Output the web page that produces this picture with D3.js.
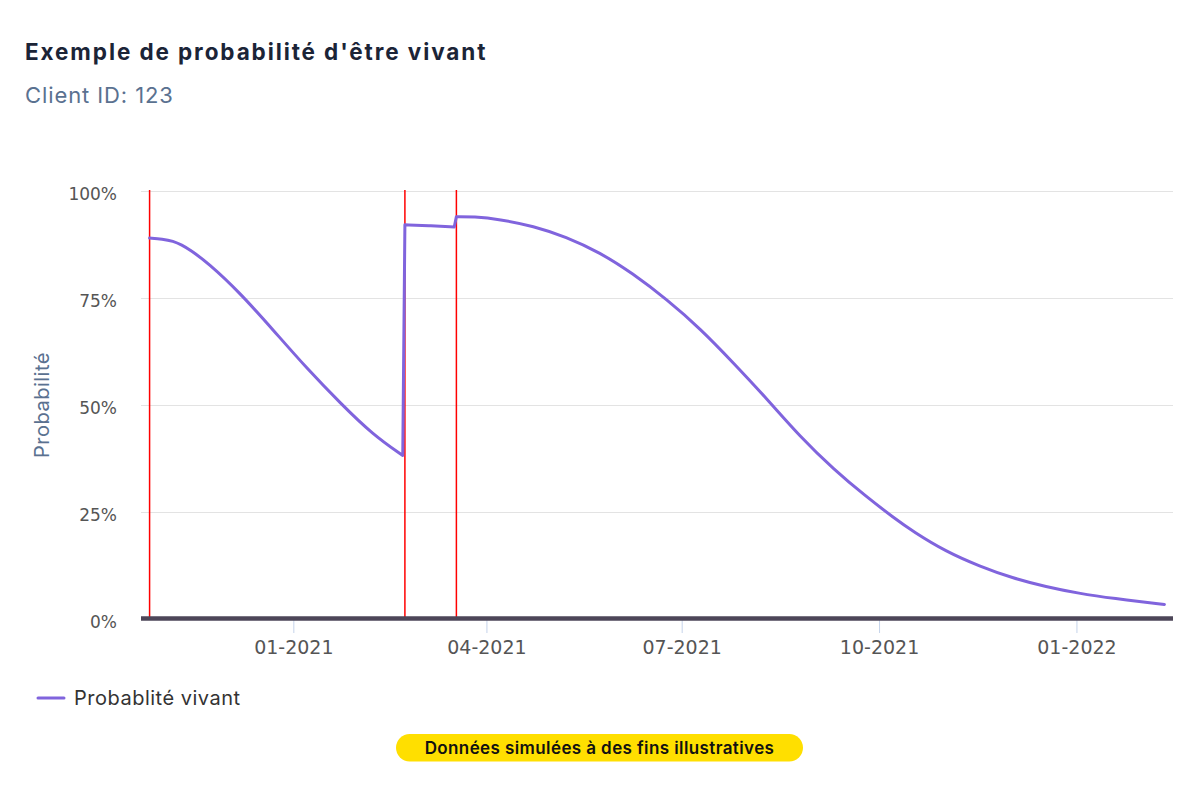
<!DOCTYPE html>
<html>
<head>
<meta charset="utf-8">
<script src="https://cdn.jsdelivr.net/npm/d3@7"></script>
<style>
  html, body { margin: 0; padding: 0; background: #ffffff; }
  svg { display: block; }
</style>
</head>
<body>
<div id="chart"></div>
<script>
// ---- Data ----
const dates = [
  "2020-10-26","2020-11-01","2020-11-06","2020-11-10","2020-11-14","2020-11-22","2020-12-07","2020-12-23",
  "2021-01-07","2021-01-23","2021-02-07","2021-02-21",
  "2021-02-22","2021-03-05","2021-03-17",
  "2021-03-18","2021-03-26","2021-04-07","2021-04-23","2021-05-08","2021-05-24","2021-06-08","2021-06-24",
  "2021-07-10","2021-07-25","2021-08-10","2021-08-25","2021-09-10","2021-09-25","2021-10-08","2021-10-17",
  "2021-11-01","2021-11-17","2021-12-02","2021-12-18","2022-01-02","2022-01-18","2022-02-11"
];
const probs = [
  89.0, 88.8, 88.3, 87.4, 86.2, 83.3, 76.3, 67.3,
  58.7, 50.4, 43.1, 38.2,
  92.1, 91.9, 91.6,
  94.0, 94.0, 93.4, 91.8, 89.3, 85.6, 80.8, 74.7,
  67.7, 59.9, 51.3, 42.7, 34.9, 28.6, 23.6, 20.4,
  15.8, 12.3, 9.6, 7.5, 6.0, 4.8, 3.4
];
const purchaseDates = ["2020-10-26", "2021-02-22", "2021-03-18"];
const yTickValues = [0, 25, 50, 75, 100];
const xTickDates = ["2021-01-01", "2021-04-01", "2021-07-01", "2021-10-01", "2022-01-01"];
const xDomainDates = ["2020-10-22", "2022-02-15"];

const titleText = "Exemple de probabilité d'être vivant";
const subtitleText = "Client ID: 123";
const yAxisTitle = "Probabilité";
const seriesName = "Probablité vivant";
const badgeText = "Données simulées à des fins illustratives";

// ---- Setup ----
const W = 1200, H = 800;
const parse = d3.utcParse("%Y-%m-%d");
const uiFont = "Inter, Lato, 'Noto Sans', sans-serif";
const axisFont = "'DejaVu Sans', Verdana, sans-serif";
const lineColor = "#8064dd";

const plot = { left: 141, right: 1173, top: 191, bottom: 619 };

const svg = d3.select("#chart").append("svg")
  .attr("width", W).attr("height", H)
  .attr("viewBox", `0 0 ${W} ${H}`);

svg.append("rect").attr("width", W).attr("height", H).attr("fill", "#ffffff");

const x = d3.scaleUtc()
  .domain(xDomainDates.map(parse))
  .range([plot.left, plot.right]);
const y = d3.scaleLinear()
  .domain([0, 100])
  .range([plot.bottom, plot.top]);

// Title & subtitle
svg.append("text")
  .attr("x", 25).attr("y", 60)
  .attr("font-family", uiFont).attr("font-weight", 700)
  .attr("font-size", 22.5).attr("letter-spacing", 1.9).attr("fill", "#1b2437")
  .text(titleText);
svg.append("text")
  .attr("x", 25).attr("y", 103)
  .attr("font-family", uiFont).attr("font-weight", 400)
  .attr("font-size", 22).attr("letter-spacing", 0.9).attr("fill", "#5a7190")
  .text(subtitleText);

// Grid lines + y labels
const yAxis = d3.axisLeft(y)
  .tickValues(yTickValues)
  .tickSize(-(plot.right - plot.left))
  .tickPadding(24)
  .tickFormat(d => d + "%");
const gy = svg.append("g")
  .attr("transform", `translate(${plot.left},0)`)
  .call(yAxis);
gy.select(".domain").remove();
gy.selectAll(".tick line").attr("stroke", "#e3e3e3").attr("stroke-width", 1);
gy.selectAll(".tick text")
  .attr("font-family", axisFont).attr("font-size", 17)
  .attr("fill", "#555555").attr("dy", "0.5em");

// Y axis title
svg.append("text")
  .attr("transform", `translate(49,${(plot.top + plot.bottom) / 2}) rotate(-90)`)
  .attr("text-anchor", "middle")
  .attr("font-family", uiFont).attr("font-size", 20).attr("letter-spacing", 0.5)
  .attr("fill", "#5a7190")
  .text(yAxisTitle);

// Purchase (red) lines
svg.append("g").selectAll("line")
  .data(purchaseDates.map(parse))
  .join("line")
  .attr("x1", d => x(d)).attr("x2", d => x(d))
  .attr("y1", y(100) - 1).attr("y2", y(0))
  .attr("stroke", "#ff0000").attr("stroke-width", 1.5);

// X axis
const xAxis = d3.axisBottom(x)
  .tickValues(xTickDates.map(parse))
  .tickSize(14)
  .tickPadding(6)
  .tickFormat(d3.utcFormat("%m-%Y"));
const gx = svg.append("g")
  .attr("transform", `translate(0,${plot.bottom})`)
  .call(xAxis);
gx.select(".domain").remove();
gx.selectAll(".tick line").attr("stroke", "#c5d3ea").attr("stroke-width", 1);
gx.selectAll(".tick text")
  .attr("font-family", axisFont).attr("font-size", 19)
  .attr("fill", "#555555").attr("dy", "0.8em");

svg.append("line")
  .attr("x1", plot.left).attr("x2", plot.right)
  .attr("y1", y(0) - 0.5).attr("y2", y(0) - 0.5)
  .attr("stroke", "#4d4658").attr("stroke-width", 4.5);

// Series line: smooth within each purchase segment, straight jumps between them
const purchases = purchaseDates.map(parse);
const points = dates.map((d, i) => ({ date: parse(d), value: probs[i] }));
const segments = d3.groups(points, p => d3.bisectRight(purchases, p.date) - 1).map(g => g[1]);
const lineGen = d3.line()
  .x(p => x(p.date)).y(p => y(p.value))
  .curve(d3.curveBasis);
const pathD = segments.map((s, i) => {
  const d = lineGen(s);
  return i ? d.replace(/^M/, "L") : d;
}).join("");
svg.append("path")
  .attr("d", pathD)
  .attr("fill", "none")
  .attr("stroke", lineColor)
  .attr("stroke-width", 3)
  .attr("stroke-linejoin", "round")
  .attr("stroke-linecap", "round");

// Legend
const lg = svg.append("g").attr("transform", "translate(38,698)");
lg.append("line").attr("x1", 0).attr("x2", 26).attr("y1", 0).attr("y2", 0)
  .attr("stroke", lineColor).attr("stroke-width", 3).attr("stroke-linecap", "round");
lg.append("text").attr("x", 36).attr("y", 7)
  .attr("font-family", uiFont).attr("font-size", 20).attr("letter-spacing", 0.5)
  .attr("fill", "#333333")
  .text(seriesName);

// Badge
const badge = svg.append("g");
badge.append("rect")
  .attr("x", 396).attr("y", 734).attr("width", 407).attr("height", 27.5)
  .attr("rx", 13.75).attr("fill", "#ffdf00");
badge.append("text")
  .attr("x", 599.5).attr("y", 753.5).attr("text-anchor", "middle")
  .attr("font-family", uiFont).attr("font-weight", 600)
  .attr("font-size", 17).attr("letter-spacing", 0.4).attr("fill", "#111111")
  .text(badgeText);
</script>
</body>
</html>
